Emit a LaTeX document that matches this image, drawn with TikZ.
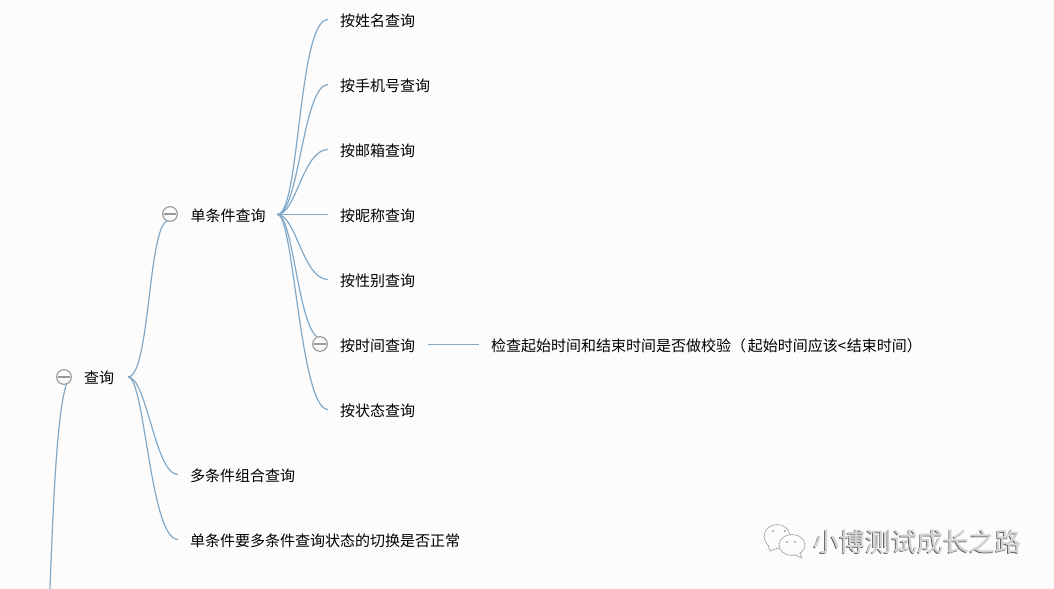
\documentclass[tikz,border=0pt]{standalone}
\usepackage{fontspec}
\setmainfont{Noto Sans CJK SC}
\definecolor{bgc}{HTML}{FCFCFC}
\definecolor{linkc}{HTML}{82A9C8}
\definecolor{iconc}{HTML}{9A9A9A}
\begin{document}
\begin{tikzpicture}[x=0.75pt,y=-0.75pt,
  topic/.style={inner ysep=0pt,inner xsep=9pt,outer sep=0pt,anchor=west,text height=12pt,text depth=2pt,font=\fontsize{11.25pt}{13pt}\selectfont,text=black},
  toggle/.style={circle,draw=iconc,fill=bgc,line width=0.9pt,minimum size=11pt,inner sep=0pt,outer sep=0pt,
    path picture={\draw[iconc,line width=0.9pt] ([xshift=-4.2pt]path picture bounding box.center) -- ([xshift=4.2pt]path picture bounding box.center);}},
  link/.style={draw=linkc,line width=0.9pt},
  mark text/.style={inner sep=0pt,anchor=west,font=\fontsize{19.5pt}{22pt}\selectfont},
  bubble/.style={draw=black!35,fill=bgc,line width=0.5pt}]
\useasboundingbox (0,0) rectangle (1054,589);
\fill[bgc] (0,0) rectangle (1054,589);

% topics
\node[topic,inner xsep=14*0.75pt] (q) at (70,377) {查询};
\node[topic,inner xsep=12*0.75pt] (s) at (178.5,214.5) {单条件查询};
\node[topic,inner xsep=12*0.75pt] (m) at (178,474.5) {多条件组合查询};
\node[topic,inner xsep=12*0.75pt] (sw) at (178,539.5) {单条件要多条件查询状态的切换是否正常};
\node[topic,inner xsep=12*0.75pt] (n1) at (328,19.5) {按姓名查询};
\node[topic,inner xsep=12*0.75pt] (n2) at (328,84.5) {按手机号查询};
\node[topic,inner xsep=12*0.75pt] (n3) at (328,149.5) {按邮箱查询};
\node[topic,inner xsep=12*0.75pt] (n4) at (328,214.5) {按昵称查询};
\node[topic,inner xsep=12*0.75pt] (n5) at (328,279.5) {按性别查询};
\node[topic,inner xsep=13*0.75pt] (n6) at (327,344.5) {按时间查询};
\node[topic,inner xsep=12*0.75pt] (n7) at (328,409.5) {按状态查询};
\node[topic,inner xsep=12*0.75pt] (d) at (479,344.5) {检查起始时间和结束时间是否做校验（\kern1.5pt 起始时间应该<\kern0.5pt 结束时间）};

% toggles
\node[toggle] (tq) at (64,377) {};
\node[toggle] (ts) at (170,214) {};
\node[toggle] (tn) at (320,344) {};
\coordinate (rootend) at (50,589);

% connectors
\draw[link] (rootend) .. controls (54,480) and (58,410) .. (tq.-70);
\draw[link] (q.east) .. controls (150,377) and (148,226) .. (ts.-110);
\draw[link] (q.east) .. controls (147,377) and (155,474.5) .. (m.west);
\draw[link] (q.east) .. controls (145,377) and (150,539.5) .. (sw.west);
\draw[link] (s.east) .. controls (300,214.5) and (298,19.5) .. (n1.west);
\draw[link] (s.east) .. controls (299,214.5) and (303,84.5) .. (n2.west);
\draw[link] (s.east) .. controls (296,214.5) and (303,149.5) .. (n3.west);
\draw[link] (s.east) -- (n4.west);
\draw[link] (s.east) .. controls (296,214.5) and (303,279.5) .. (n5.west);
\draw[link] (s.east) .. controls (293,214.5) and (298,325) .. (tn.-250);
\draw[link] (s.east) .. controls (294,214.5) and (300,409.5) .. (n7.west);
\draw[link] (n6.east) -- (d.west);

% watermark
\node[mark text,text=black!62] (wm) at (812.6,542.6) {小博测试成长之路};
\node[mark text,text=bgc] (wmb) at (813.4,542) {小博测试成长之路};
\node[mark text,text=black!18] (wmc) at (813,542) {小博测试成长之路};
\draw[bubble] (777,536.5) ellipse [x radius=13, y radius=12];
\draw[bubble] (768,545) -- (770,551) -- (778,548);
\draw[bubble] (792,545) ellipse [x radius=13, y radius=10.5];
\draw[bubble] (795,555) -- (802,558) -- (800,553);
\foreach \p in {(773,531),(785,531),(787,542),(795,542)} \fill[black!35] \p circle (0.9pt);
\end{tikzpicture}
\end{document}
